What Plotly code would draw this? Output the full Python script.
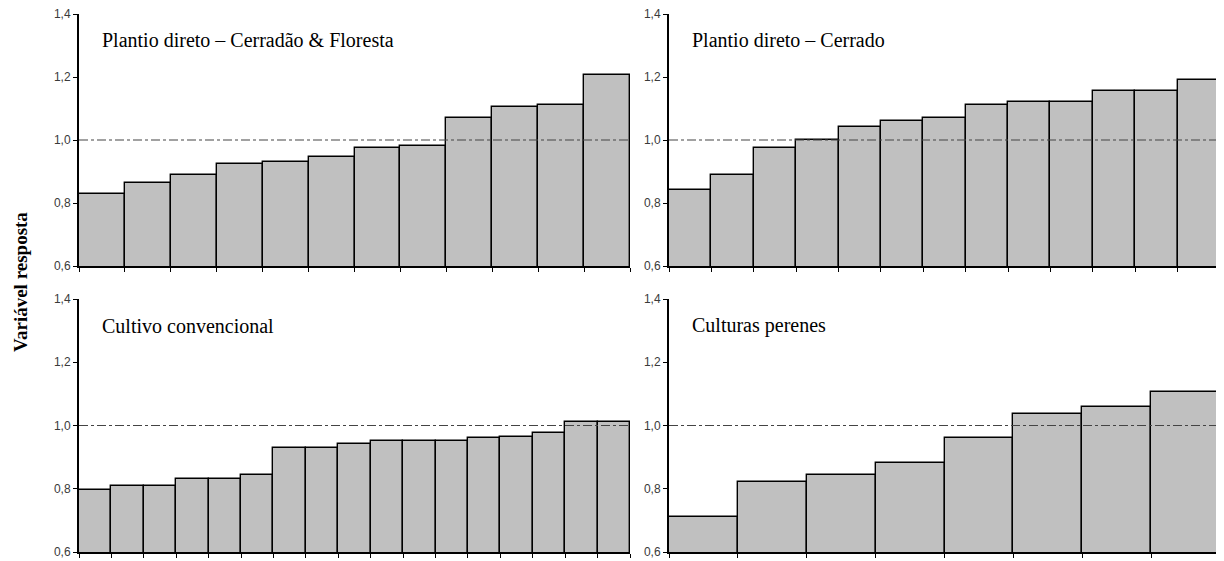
import plotly.graph_objects as go

# ---- data ----
titles = [
    "Plantio direto – Cerradão & Floresta",
    "Plantio direto – Cerrado",
    "Cultivo convencional",
    "Culturas perenes",
]
pd_cerradao_floresta = [0.83, 0.865, 0.89, 0.925, 0.93, 0.945, 0.975, 0.98, 1.07, 1.105, 1.11, 1.205]
pd_cerrado = [0.84, 0.89, 0.975, 1.0, 1.04, 1.06, 1.07, 1.11, 1.12, 1.12, 1.155, 1.155, 1.19]
cultivo_convencional = [0.795, 0.81, 0.81, 0.83, 0.83, 0.845, 0.93, 0.93, 0.94, 0.95, 0.95, 0.95,
                        0.96, 0.965, 0.975, 1.01, 1.01]
culturas_perenes = [0.71, 0.82, 0.845, 0.88, 0.96, 1.035, 1.06, 1.105]
series = [pd_cerradao_floresta, pd_cerrado, cultivo_convencional, culturas_perenes]
y_ticks = [0.6, 0.8, 1.0, 1.2, 1.4]
ref_value = 1.0
y_title = "Variável resposta"

# ---- layout geometry ----
# page body has an 8px margin, so the figure starts at (8, 8) in the 1224x561 window
OFF = 8
W, H = 1224 - OFF, 561 - OFF


def px_x(x):
    return (x - OFF) / W


def px_y(y):
    return 1 - (y - OFF) / H


xdoms = [[px_x(79), px_x(630)], [px_x(669), px_x(1220)]]
ydoms = [[px_y(266), px_y(14)], [px_y(552), px_y(299)]]

fig = go.Figure()
for i, vals in enumerate(series):
    r, c = divmod(i, 2)
    ax = "" if i == 0 else str(i + 1)
    n = len(vals)
    fig.add_trace(go.Bar(
        x=list(range(n)), y=vals, width=1,
        marker=dict(color="#c0c0c0", line=dict(color="black", width=1.4)),
        xaxis="x" + ax, yaxis="y" + ax, showlegend=False, hoverinfo="y",
    ))
    fig.layout["xaxis" + ax] = dict(
        domain=xdoms[c], anchor="y" + ax, range=[-0.5, n - 0.5], automargin=False,
        tickvals=[k - 0.5 for k in range(n + 1)], showticklabels=False,
        ticks="outside", ticklen=4, tickwidth=1, tickcolor="black",
        showline=True, linewidth=2, linecolor="black", showgrid=False, zeroline=False,
    )
    fig.layout["yaxis" + ax] = dict(
        domain=ydoms[r], anchor="x" + ax, range=[y_ticks[0], y_ticks[-1]], automargin=False,
        tickvals=y_ticks, tickformat=".1f", ticklabeloverflow="allow",
        ticks="outside", ticklen=4, tickwidth=1, tickcolor="black",
        tickfont=dict(family="Liberation Sans, Arial", size=12, color="#3a3a3a"),
        showline=True, linewidth=2, linecolor="black", showgrid=False, zeroline=False,
    )
    fig.add_shape(type="line", xref=f"x{ax} domain", yref="y" + ax,
                  x0=0, x1=1, y0=ref_value, y1=ref_value, layer="above",
                  line=dict(color="#444", width=1.2, dash="dashdot"))
    fig.add_annotation(text=titles[i], xref=f"x{ax} domain", yref=f"y{ax} domain",
                       x=0.038, y=0.895, xanchor="left", yanchor="middle", showarrow=False,
                       font=dict(family="Liberation Serif, Times New Roman", size=20, color="black"))

fig.add_annotation(text="<b>" + y_title + "</b>", xref="paper", yref="paper", x=px_x(20),
                   y=px_y(282), textangle=-90, showarrow=False, xanchor="center", yanchor="middle",
                   font=dict(family="Liberation Serif, Times New Roman", size=19, color="black"))
fig.update_layout(
    width=W, height=H, margin=dict(l=0, r=0, t=0, b=0),
    paper_bgcolor="white", plot_bgcolor="white", bargap=0,
    separators=",.",
)
fig.write_html("out.html")
